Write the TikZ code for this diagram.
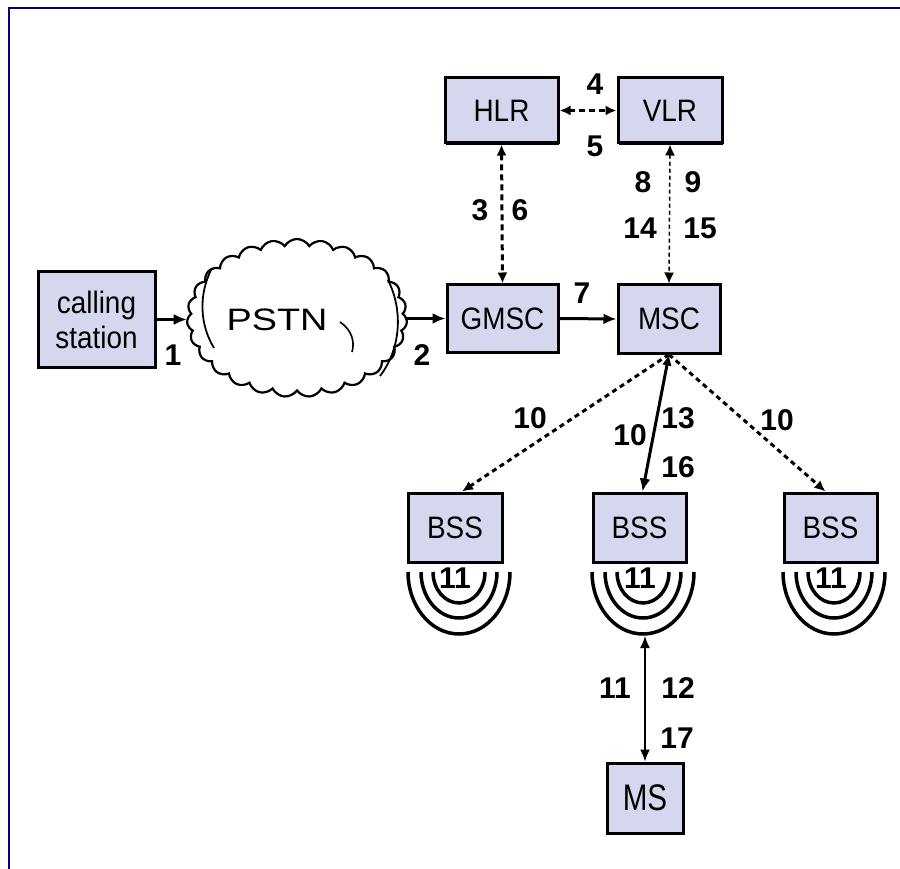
\documentclass[tikz,border=0pt]{standalone}
\usepackage{fontspec}
\setmainfont{Liberation Sans}[FakeStretch=0.9]
\newfontfamily\numfont{Liberation Sans}
\newfontfamily\widefont{Liberation Sans}[FakeStretch=1.22]
\newfontfamily\tallfont{Liberation Sans}[FakeStretch=0.8]
\usetikzlibrary{arrows.meta,shapes.symbols,shadows}
\definecolor{boxfill}{RGB}{213,215,239}
\definecolor{framec}{RGB}{0,0,128}
\begin{document}
\begin{tikzpicture}[x=1pt,y=-1pt,
  box/.style={draw=black,line width=3pt,fill=boxfill,font=\fontsize{31}{36}\selectfont,inner sep=0pt,align=center,
              drop shadow={shadow xshift=1pt,shadow yshift=-2pt,fill=black,opacity=1}},
  num/.style={font=\numfont\bfseries\fontsize{30}{36}\selectfont,inner sep=0pt,text=black},
  solidarr/.style={line width=3pt,-{Latex[length=13pt,width=11pt]}},
  dasharr/.style={line width=3pt,dash pattern=on 6pt off 4pt,{Latex[length=11pt,width=10pt]}-{Latex[length=11pt,width=10pt]}},
  thindash/.style={line width=1.5pt,dash pattern=on 4pt off 3pt,{Latex[length=11pt,width=10pt]}-{Latex[length=11pt,width=10pt]}},
  diagdash/.style={line width=3pt,dash pattern=on 5pt off 4pt,-{Latex[length=11pt,width=10pt]}},
  thinarr/.style={line width=1.6pt,{Latex[length=12pt,width=10pt]}-{Latex[length=12pt,width=10pt]}},
  wave/.style={line width=3.5pt}
]
\useasboundingbox (0,0) rectangle (900,869);
\draw[framec,line width=2.5pt] (9,869) -- (9,8) -- (900,8);

% cloud
\node[cloud,draw,line width=2.2pt,cloud puffs=27,cloud puff arc=120,aspect=1.4,
      minimum width=220pt,minimum height=158pt,fill=white,inner sep=0pt] (pstn) at (297,318) {};
\draw[line width=1.8pt] (212,268) .. controls (198,295) and (200,325) .. (214,348);
\draw[line width=1.8pt] (388,280) .. controls (404,312) and (400,350) .. (380,376);
\draw[line width=1.6pt] (340,322) .. controls (352,330) and (355,342) .. (352,352);
\node[font=\widefont\fontsize{31}{36}\selectfont,inner sep=0pt] (pstnlbl) at (277,320) {PSTN};

% boxes
\node[box,minimum width=117pt,minimum height=95pt] (cs) at (96.5,319.5) {calling\\[-1pt]station};
\node[box,minimum width=113pt,minimum height=65pt] (hlr) at (501.5,110.5) {HLR};
\node[box,minimum width=104pt,minimum height=65pt] (vlr) at (670,110.5) {VLR};
\node[box,minimum width=111pt,minimum height=67pt] (gmsc) at (502.5,318.5) {GMSC};
\node[box,minimum width=102pt,minimum height=68pt] (msc) at (669,319) {MSC};
\node[box,minimum width=94pt,minimum height=69pt] (bss1) at (455,527.5) {BSS};
\node[box,minimum width=93pt,minimum height=69pt] (bss2) at (639.5,527.5) {BSS};
\node[box,minimum width=93pt,minimum height=69pt] (bss3) at (830.5,527.5) {BSS};
\node[box,minimum width=76pt,minimum height=70pt,font=\tallfont\fontsize{37}{40}\selectfont] (ms) at (645,798) {MS};

% waves
\foreach \cx in {459,643,834}{
  \draw[wave] (\cx-26,572) arc[start angle=180,end angle=0,x radius=26,y radius=31];
  \draw[wave] (\cx-38,572) arc[start angle=180,end angle=0,x radius=38,y radius=46];
  \draw[wave] (\cx-51,572) arc[start angle=180,end angle=0,x radius=51,y radius=62];
}
\coordinate (wb) at (645,636);

% connectors
\draw[solidarr] (cs.east) -- (cs.east -| pstn.west);
\draw[solidarr] (gmsc.west -| pstn.east) -- (gmsc.west);
\draw[solidarr] (gmsc.east) -- (msc.west);
\draw[dasharr] (hlr.east) -- (vlr.west);
\draw[dasharr] (hlr.south) -- (gmsc.north);
\draw[thindash] (vlr.south) -- (msc.north);
\draw[diagdash] (msc.south) -- ([xshift=7pt]bss1.north);
\draw[line width=3pt,{Latex[length=11pt,width=10pt]}-{Latex[length=13pt,width=11pt]}] (msc.south) -- ([xshift=3pt]bss2.north);
\draw[diagdash] (msc.south) -- ([xshift=-5pt]bss3.north);
\draw[thinarr] (wb) -- (ms.north);

% labels
\node[num] (n1) at (173,355) {1};
\node[num] (n2) at (422,355) {2};
\node[num] (n3) at (480,210) {3};
\node[num] (n6) at (520,210) {6};
\node[num] (n4) at (595,84) {4};
\node[num] (n5) at (595,146) {5};
\node[num] (n8) at (643,182) {8};
\node[num] (n9) at (693,182) {9};
\node[num] (n14) at (640,228) {14};
\node[num] (n15) at (700,228) {15};
\node[num] (n7) at (582,293) {7};
\node[num] (n10a) at (530,418) {10};
\node[num] (n10b) at (630,435) {10};
\node[num] (n13) at (678,418) {13};
\node[num] (n16) at (678,467) {16};
\node[num] (n10c) at (777,420) {10};
\node[num] (n11a) at (455,578) {11};
\node[num] (n11b) at (640,578) {11};
\node[num] (n11c) at (831,578) {11};
\node[num] (n11d) at (615,688) {11};
\node[num] (n12) at (678,688) {12};
\node[num] (n17) at (677,738) {17};
\end{tikzpicture}
\end{document}
